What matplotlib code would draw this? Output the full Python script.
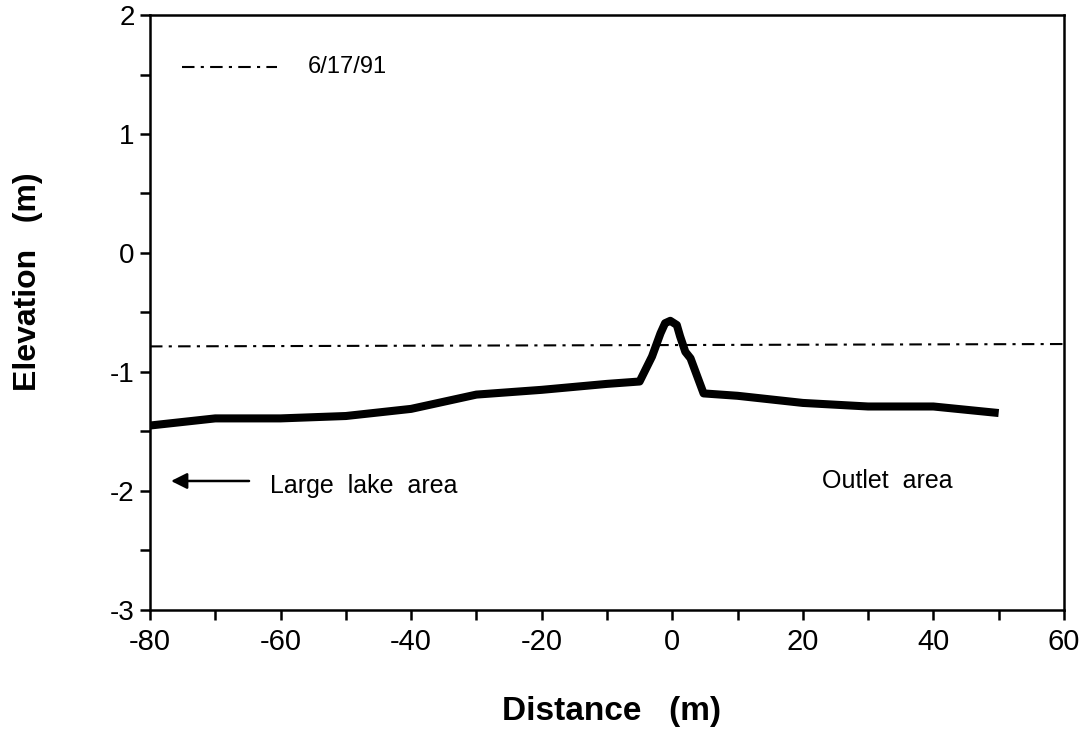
import matplotlib
matplotlib.use("Agg")
import matplotlib.pyplot as plt
from matplotlib.ticker import MultipleLocator

plt.rcParams['font.family'] = ['Liberation Sans', 'DejaVu Sans']
plt.rcParams['axes.unicode_minus'] = False

# --- data ---
distance = [-80, -70, -60, -50, -40, -30, -20, -10, -5, -3.1, -1.8, -1.1, -0.3, 0.7, 1.2, 2.0, 2.8, 4.8,
            10, 20, 30, 40, 50]
elevation = [-1.45, -1.39, -1.39, -1.37, -1.31, -1.19, -1.15, -1.10, -1.08, -0.87, -0.675, -0.59, -0.57,
             -0.605, -0.70, -0.83, -0.885, -1.18, -1.20, -1.26, -1.29, -1.29, -1.345]

water_x = [-80, 60]
water_y = [-0.785, -0.765]
water_label = "6/17/91"

fig = plt.figure(figsize=(10.86, 7.32), dpi=100)
ax = fig.add_axes([0.1381, 0.1667, 0.8416, 0.8128])

ax.plot(distance, elevation, color="black", lw=5.8, solid_joinstyle="round", solid_capstyle="butt")
ax.plot(water_x, water_y, color="black", lw=1.5, dashes=(6, 3, 1.5, 3))

# legend drawn by hand like the original
ax.plot([-75.1, -60.5], [1.563, 1.563], color="black", lw=1.5, dashes=(6, 3, 1.5, 3))
ax.text(-55.8, 1.56, water_label, fontsize=17, va="center", ha="left")

# annotations
ax.annotate("", xy=(-77.2, -1.916), xytext=(-64.4, -1.916),
            arrowprops=dict(arrowstyle="-|>", color="black", lw=1.8, mutation_scale=24))
ax.text(-61.6, -1.96, "Large  lake  area", fontsize=18, va="center", ha="left")
ax.text(22.9, -1.92, "Outlet  area", fontsize=18, va="center", ha="left")

ax.set_xlim(-80, 60)
ax.set_ylim(-3, 2)
ax.xaxis.set_major_locator(MultipleLocator(20))
ax.xaxis.set_minor_locator(MultipleLocator(10))
ax.yaxis.set_major_locator(MultipleLocator(1))
ax.yaxis.set_minor_locator(MultipleLocator(0.5))
ax.tick_params(which="both", direction="out", length=7, width=1.8,
               top=False, right=False)
ax.tick_params(axis="x", labelsize=21, pad=6)
ax.tick_params(axis="y", labelsize=20, pad=4)
for sp in ax.spines.values():
    sp.set_linewidth(1.8)

ax.set_xlabel("Distance   (m)", fontsize=24, fontweight="bold")
ax.set_ylabel("Elevation   (m)", fontsize=23, fontweight="bold")
ax.xaxis.set_label_coords(0.505, -0.145)
ax.yaxis.set_label_coords(-0.117, 0.551)

fig.savefig("out.png", dpi=100)
